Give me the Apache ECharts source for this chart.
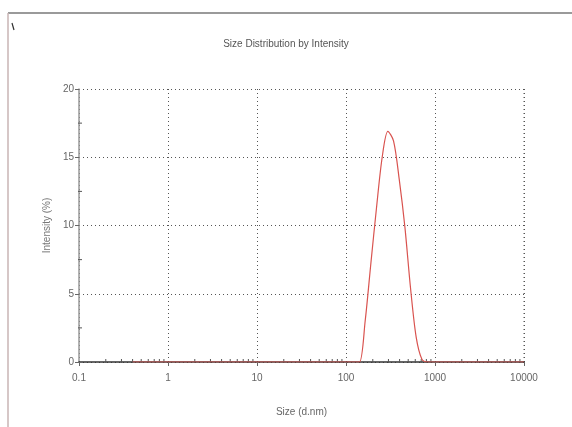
<!DOCTYPE html>
<html><head><meta charset="utf-8">
<script src="https://cdn.jsdelivr.net/npm/echarts@6/dist/echarts.min.js"></script>
<style>html,body{margin:0;padding:0;background:#fff}#c{width:572px;height:427px}</style>
</head><body><div id="c"></div>
<script>
const sizes = [0.4,0.4632,0.5365,0.6213,0.7195,0.8332,0.9649,1.117,1.294,1.499,1.736,2.010,2.328,2.696,3.122,3.615,4.187,4.849,5.615,6.503,7.531,8.721,10.10,11.70,13.54,15.69,18.17,21.04,24.36,28.21,32.67,37.84,43.82,50.75,58.77,68.06,78.82,91.28,105.7,122.4,141.8,164.2,190.1,220.2,255.0,295.3,342.0,396.1,458.7,531.2,615.1,712.4,825.0,955.4,1106,1281,1484,1718,1990,2305,2669,3091,3580,4145,4801,5560,6439,7456,8635,10000];
const intensity = [0,0,0,0,0,0,0,0,0,0,0,0,0,0,0,0,0,0,0,0,0,0,0,0,0,0,0,0,0,0,0,0,0,0,0,0,0,0,0,0,0,3.0,7.2,11.3,15.0,16.9,16.2,13.4,9.9,5.4,1.8,0.2,0,0,0,0,0,0,0,0,0,0,0,0,0,0,0,0,0,0];
const minorTickValues = [0.2,0.3,0.4,0.5,0.6,0.7,0.8,0.9,2,3,4,5,6,7,8,9,20,30,40,50,60,70,80,90,200,300,400,500,600,700,800,900,2000,3000,4000,5000,6000,7000,8000,9000];
const yMinorValues = [2.5,7.5,12.5,17.5];
const titleText = 'Size Distribution by Intensity';
const xName = 'Size (d.nm)';
const yName = 'Intensity (%)';

const FONT = '"Liberation Sans Narrow","Liberation Sans",Arial,sans-serif';
const chart = echarts.init(document.getElementById('c'), null, {renderer:'canvas'});
const gridLine = {show:true, lineStyle:{color:'#555', type:[1,3], width:1}};
chart.setOption({
  animation:false,
  backgroundColor:'#fff',
  title:{text:titleText,left:'center',top:34,textStyle:{fontFamily:FONT,fontSize:10,fontWeight:'normal',color:'#555'}},
  grid:{left:79,right:48,top:89,bottom:65},
  xAxis:{type:'log',logBase:10,min:0.1,max:10000,
    name:xName,nameLocation:'middle',nameGap:45,
    nameTextStyle:{fontFamily:FONT,fontSize:10,color:'#666'},
    axisLine:{show:true,lineStyle:{color:'#333',width:1.5}},
    axisTick:{show:true,inside:false,length:4,lineStyle:{color:'#666'}},
    axisLabel:{fontFamily:FONT,fontSize:10,color:'#666',margin:11,formatter:v=>String(v)},
    splitLine:gridLine,
    minorTick:{show:false}},
  yAxis:{type:'value',min:0,max:20,interval:5,
    name:yName,nameLocation:'middle',nameGap:19,
    nameTextStyle:{fontFamily:FONT,fontSize:10,color:'#777'},
    axisLine:{show:true,lineStyle:{color:'#999',width:1.5}},
    axisTick:{show:true,length:4,lineStyle:{color:'#666'}},
    axisLabel:{fontFamily:FONT,fontSize:10,color:'#666',margin:5},
    splitLine:gridLine},
  graphic:[
    {type:'line',shape:{x1:8,y1:13,x2:572,y2:13},style:{stroke:'#9a9a9a',lineWidth:2}},
    {type:'line',shape:{x1:8,y1:13,x2:8,y2:427},style:{stroke:'#c9b4b4',lineWidth:1.5}},
    {type:'line',shape:{x1:12,y1:23,x2:14,y2:30},style:{stroke:'#333',lineWidth:1.2}},
    {type:'line',shape:{x1:524,y1:89,x2:524,y2:362},style:{stroke:'#555',lineWidth:1,lineDash:[1,3]}}
  ],
  series:[
    {type:'line',data:sizes.map((s,i)=>[s,intensity[i]]),showSymbol:false,smooth:0.3,
     lineStyle:{color:'#d9534f',width:1.2},itemStyle:{color:'#d9534f'},z:5},
    {type:'custom',renderItem:(p,api)=>{const pt=api.coord([api.value(0),0]);
       return {type:'line',shape:{x1:pt[0],y1:pt[1]-3,x2:pt[0],y2:pt[1]+1},style:{stroke:'#555',lineWidth:1}};},
     data:minorTickValues.map(v=>[v]),z:3,silent:true},
    {type:'custom',renderItem:(p,api)=>{const pt=api.coord([0.1,api.value(0)]);
       return {type:'line',shape:{x1:pt[0]-1,y1:pt[1],x2:pt[0]+3,y2:pt[1]},style:{stroke:'#555',lineWidth:1}};},
     encode:{x:-1,y:0},data:yMinorValues.map(v=>[v]),z:3,silent:true}
  ]
});
</script></body></html>
